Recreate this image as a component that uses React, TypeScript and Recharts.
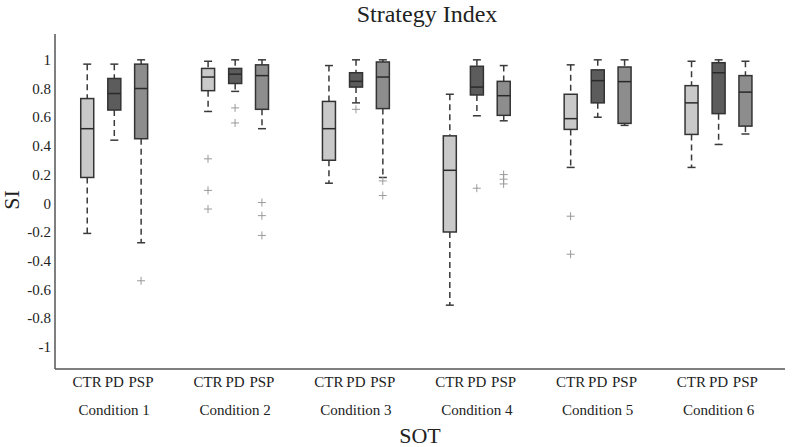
import { Bar, ComposedChart, Scatter, XAxis, YAxis } from 'recharts';

const conditions = ['Condition 1', 'Condition 2', 'Condition 3', 'Condition 4', 'Condition 5', 'Condition 6'];
const groups = ['CTR', 'PD', 'PSP'];

// [lower whisker, q1, median, q3, upper whisker] per condition
const ctrBoxes = [
  [-0.21, 0.18, 0.52, 0.73, 0.97],
  [0.64, 0.785, 0.88, 0.94, 0.99],
  [0.14, 0.3, 0.52, 0.71, 0.96],
  [-0.71, -0.2, 0.23, 0.47, 0.76],
  [0.25, 0.515, 0.59, 0.76, 0.965],
  [0.25, 0.48, 0.7, 0.82, 0.99],
];
const pdBoxes = [
  [0.44, 0.65, 0.765, 0.87, 0.97],
  [0.78, 0.835, 0.9, 0.94, 1.0],
  [0.7, 0.81, 0.85, 0.91, 1.0],
  [0.61, 0.755, 0.81, 0.955, 1.0],
  [0.6, 0.7, 0.855, 0.93, 1.0],
  [0.41, 0.625, 0.91, 0.98, 1.0],
];
const pspBoxes = [
  [-0.275, 0.45, 0.8, 0.97, 1.0],
  [0.52, 0.655, 0.89, 0.965, 1.0],
  [0.18, 0.66, 0.88, 0.985, 1.0],
  [0.575, 0.613, 0.75, 0.85, 0.96],
  [0.543, 0.557, 0.848, 0.95, 1.0],
  [0.483, 0.538, 0.775, 0.89, 0.99],
];

const ctrOutliers = [[], [0.31, 0.09, -0.04], [], [], [-0.09, -0.355], []];
const pdOutliers = [[], [0.665, 0.56], [0.655], [0.105], [], []];
const pspOutliers = [[-0.54], [0.005, -0.086, -0.224], [0.156, 0.054], [0.2, 0.168, 0.135], [], []];

const yTicks = [-1, -0.8, -0.6, -0.4, -0.2, 0, 0.2, 0.4, 0.6, 0.8, 1];

const fills = ['#c9c9c9', '#5c5c5c', '#8d8d8d'];
const groupShift = [-0.224, 0, 0.222];
const font = 'Liberation Serif, DejaVu Serif, serif';

const allBoxes = [ctrBoxes, pdBoxes, pspBoxes];
const allOutliers = [ctrOutliers, pdOutliers, pspOutliers];

const boxRows = conditions.flatMap((_, i) =>
  allBoxes.map((boxes, g) => {
    const [lo, q1, med, q3, hi] = boxes[i];
    return { pos: i + groupShift[g], range: [lo, hi], lo, q1, med, q3, hi, g };
  })
);

const outlierRows = conditions.flatMap((_, i) =>
  allOutliers.flatMap((outs, g) => outs[i].map((value) => ({ pos: i + groupShift[g], value })))
);

const boxTicks = boxRows.map((r) => r.pos);
const boxTickLabel = (v: number) => {
  const row = boxRows.find((r) => Math.abs(r.pos - v) < 1e-6);
  return row ? groups[row.g] : '';
};

function BoxShape(props: any) {
  const { x, y, width, height } = props;
  const p = props.payload ?? props;
  if (height == null || !p) return null;
  const toY = (v: number) => y + ((p.hi - v) / (p.hi - p.lo)) * height;
  const cx = x + width / 2;
  const cap = 4;
  return (
    <g>
      <line x1={cx} x2={cx} y1={toY(p.hi)} y2={toY(p.q3)} stroke="#3a3a3a" strokeWidth={1.5} strokeDasharray="6 4" />
      <line x1={cx} x2={cx} y1={toY(p.q1)} y2={toY(p.lo)} stroke="#3a3a3a" strokeWidth={1.5} strokeDasharray="6 4" />
      <line x1={cx - cap} x2={cx + cap} y1={toY(p.hi)} y2={toY(p.hi)} stroke="#3a3a3a" strokeWidth={1.5} />
      <line x1={cx - cap} x2={cx + cap} y1={toY(p.lo)} y2={toY(p.lo)} stroke="#3a3a3a" strokeWidth={1.5} />
      <rect x={x} y={toY(p.q3)} width={width} height={toY(p.q1) - toY(p.q3)} fill={fills[p.g]} stroke="#333" strokeWidth={1.5} />
      <line x1={x} x2={x + width} y1={toY(p.med)} y2={toY(p.med)} stroke="#2a2a2a" strokeWidth={1.5} />
    </g>
  );
}

function PlusShape(props: any) {
  const { cx, cy } = props;
  if (cx == null || cy == null) return null;
  return (
    <g stroke="#9a9a9a" strokeWidth={1}>
      <line x1={cx - 4} x2={cx + 4} y1={cy} y2={cy} />
      <line x1={cx} x2={cx} y1={cy - 4} y2={cy + 4} />
    </g>
  );
}

function makeTick(format: (v: number) => string, anchor: 'middle' | 'end', dy: string) {
  return function Tick(props: any) {
    const { x, y, payload } = props;
    return (
      <text x={x} y={y} dy={dy} textAnchor={anchor} fontFamily="Liberation Serif" fontSize={15} fill="#222">
        {format(payload.value)}
      </text>
    );
  };
}

const BoxTick = makeTick(boxTickLabel, 'middle', '0.71em');
const CondTick = makeTick((v) => conditions[Math.round(v)] ?? '', 'middle', '0.71em');
const YTick = makeTick((v) => String(Number(v.toFixed(1))), 'end', '0.35em');

export default function App() {
  return (
    <div style={{ position: 'absolute', left: 0, top: 0, width: 800, height: 447, background: '#fff', fontFamily: font, color: '#222' }}>
      <div style={{ position: 'absolute', left: 0, width: 854, top: 1, lineHeight: '26px', textAlign: 'center', fontSize: 24 }}>Strategy Index</div>
      <div style={{ position: 'absolute', left: 0, width: 840, top: 425, lineHeight: '22px', textAlign: 'center', fontSize: 22 }}>SOT</div>
      <div style={{ position: 'absolute', left: -8, top: 188, width: 40, lineHeight: '24px', textAlign: 'center', fontSize: 22, transform: 'rotate(-90deg)' }}>SI</div>
      <ComposedChart width={800} height={447} data={boxRows} margin={{ top: 34, right: 15, left: 0, bottom: 13 }} style={{ fontFamily: font }}>
        <XAxis
          xAxisId="box"
          dataKey="pos"
          type="number"
          domain={[-0.49, 5.55]}
          allowDataOverflow
          ticks={boxTicks}
          interval={0}
          tick={BoxTick}
          tickLine={false}
          tickSize={5}
          tickMargin={2}
          height={35}
          axisLine={{ stroke: '#555', strokeWidth: 1.5 }}
        />
        <XAxis
          xAxisId="cond"
          dataKey="pos"
          type="number"
          domain={[-0.49, 5.55]}
          allowDataOverflow
          ticks={[0, 1, 2, 3, 4, 5]}
          interval={0}
          tick={CondTick}
          tickLine={false}
          axisLine={false}
          tickSize={0}
          tickMargin={0}
          height={30}
        />
        <YAxis
          type="number"
          domain={[-1.155, 1.18]}
          allowDataOverflow
          ticks={yTicks}
          interval={0}
          tick={YTick}
          tickLine={false}
          tickSize={2}
          tickMargin={2}
          width={55}
          axisLine={{ stroke: '#555', strokeWidth: 1.5 }}
        />
        <Bar xAxisId="box" dataKey="range" barSize={13} shape={BoxShape} isAnimationActive={false} />
        <Scatter xAxisId="box" data={outlierRows} dataKey="value" shape={PlusShape} isAnimationActive={false} />
      </ComposedChart>
    </div>
  );
}
